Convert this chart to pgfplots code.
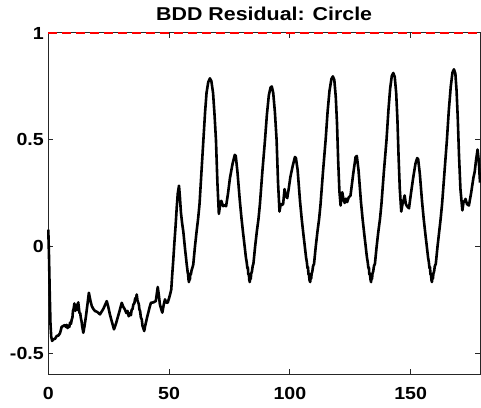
\documentclass[border=0pt]{standalone}
\usepackage{fontspec}
\setmainfont{Liberation Sans}
\usepackage{graphicx}
\usepackage{pgfplots}
\usepackage{pgfplotstable}
\pgfplotsset{compat=1.18}
\definecolor{axgray}{rgb}{0.15,0.15,0.15}
\newcommand{\tl}[1]{\scalebox{1.12}[1]{#1}}
\newcommand{\ttl}[1]{\scalebox{1.15}[1]{#1}}
\pgfplotstableread{
x y
0 0.08
0.3 -0.05
0.6 -0.22
0.9 -0.36
1.2 -0.42
1.6 -0.44
2.1 -0.433
2.8 -0.43
3.5 -0.417
4.2 -0.415
4.8 -0.405
5.2 -0.39
5.5 -0.375
6.2 -0.37
6.9 -0.366
7.3 -0.375
7.6 -0.365
8.0 -0.38
8.3 -0.37
8.7 -0.375
9.0 -0.355
9.4 -0.36
9.7 -0.34
10.0 -0.33
10.2 -0.30
10.5 -0.29
10.8 -0.265
11.0 -0.29
11.2 -0.30
11.4 -0.275
11.6 -0.29
11.8 -0.27
12.0 -0.295
12.2 -0.27
12.4 -0.26
12.7 -0.29
12.9 -0.31
13.2 -0.31
13.5 -0.335
13.8 -0.35
14.0 -0.37
14.5 -0.402
15.0 -0.37
15.5 -0.332
16.2 -0.27
16.8 -0.215
17.4 -0.25
18.0 -0.277
18.6 -0.29
19.3 -0.30
20.3 -0.305
21.4 -0.316
22.8 -0.29
24.2 -0.254
24.8 -0.28
25.5 -0.316
26.3 -0.35
27.2 -0.386
28.0 -0.36
28.7 -0.332
29.5 -0.30
30.4 -0.262
31.0 -0.28
31.7 -0.293
32.3 -0.31
32.8 -0.30
33.3 -0.325
33.8 -0.31
34.2 -0.32
34.5 -0.295
34.9 -0.29
35.2 -0.27
35.6 -0.265
36.0 -0.24
36.3 -0.245
36.6 -0.223
36.9 -0.25
37.2 -0.26
37.5 -0.27
37.7 -0.293
38.0 -0.30
38.3 -0.33
38.7 -0.34
39.0 -0.37
39.3 -0.38
39.7 -0.394
40.1 -0.37
40.5 -0.35
41.0 -0.325
41.4 -0.308
42.0 -0.28
42.5 -0.262
43.5 -0.26
44.5 -0.254
45.3 -0.188
45.8 -0.23
46.2 -0.27
46.7 -0.29
47.2 -0.308
47.8 -0.27
48.3 -0.246
48.8 -0.26
49.4 -0.262
50.0 -0.24
50.4 -0.223
50.9 -0.2
51.3 -0.13
51.7 -0.067
52.2 0.02
52.7 0.1
53.2 0.19
53.6 0.25
54.1 0.286
54.5 0.23
54.9 0.16
55.4 0.11
55.9 0.07
56.6 -0.01
57.0 -0.05
57.3 -0.083
57.5 -0.10
57.7 -0.12
57.9 -0.13
58.0 -0.15
58.2 -0.165
58.4 -0.145
58.6 -0.155
58.8 -0.125
59.0 -0.13
59.3 -0.11
59.6 -0.1
60.0 -0.083
60.7 0.0
61.4 0.073
62.0 0.13
62.6 0.2
63.4 0.35
64.2 0.5
64.9 0.63
65.5 0.72
66.2 0.77
66.9 0.788
67.5 0.775
68.2 0.72
68.8 0.62
69.4 0.5
70.0 0.3
70.6 0.154
71.2 0.2
71.6 0.215
71.9 0.205
72.4 0.19
72.9 0.195
73.6 0.19
74.4 0.25
75.2 0.322
76.3 0.39
77.2 0.43
77.6 0.425
78.3 0.35
79.3 0.213
80.0 0.13
80.7 0.058
81.3 0.0
81.8 -0.05
82.1 -0.07
82.4 -0.1
82.6 -0.095
82.8 -0.13
83.0 -0.125
83.2 -0.155
83.4 -0.165
83.6 -0.14
83.8 -0.15
84.0 -0.125
84.3 -0.115
84.6 -0.09
84.9 -0.08
85.6 0.0
86.3 0.07
87.0 0.13
87.6 0.2
88.6 0.35
89.7 0.5
90.5 0.62
91.3 0.71
92.0 0.745
92.5 0.75
93.1 0.72
93.8 0.63
94.5 0.5
95.1 0.3
95.7 0.165
96.2 0.2
96.7 0.195
97.2 0.2
97.8 0.27
98.3 0.24
98.9 0.228
99.5 0.27
100.2 0.326
101.2 0.38
102.1 0.42
102.5 0.415
103.2 0.36
104.2 0.213
104.9 0.13
105.6 0.058
106.2 0.0
106.7 -0.05
107.0 -0.07
107.3 -0.1
107.5 -0.095
107.7 -0.13
107.9 -0.125
108.1 -0.155
108.4 -0.165
108.6 -0.14
108.8 -0.15
109.0 -0.125
109.3 -0.115
109.6 -0.09
110.0 -0.08
110.7 0.0
111.4 0.07
112.1 0.13
112.7 0.2
113.7 0.35
114.8 0.5
115.6 0.63
116.4 0.73
117.2 0.785
117.8 0.797
118.4 0.78
119.0 0.7
119.5 0.58
120.0 0.4
120.5 0.26
121.0 0.193
121.4 0.24
121.7 0.255
122.2 0.22
122.7 0.205
123.2 0.225
123.7 0.209
124.3 0.23
125.1 0.24
126.2 0.34
127.2 0.42
127.7 0.425
128.4 0.36
129.4 0.213
130.1 0.13
130.8 0.058
131.4 0.0
131.9 -0.05
132.2 -0.07
132.5 -0.1
132.7 -0.095
132.9 -0.13
133.1 -0.125
133.4 -0.155
133.6 -0.165
133.8 -0.14
134.0 -0.15
134.2 -0.125
134.5 -0.115
134.8 -0.09
135.2 -0.08
135.9 0.0
136.6 0.07
137.3 0.13
137.9 0.2
138.9 0.35
140.0 0.5
140.8 0.64
141.5 0.74
142.2 0.8
142.8 0.813
143.4 0.795
144.0 0.72
144.5 0.6
145.0 0.42
145.5 0.27
146.1 0.165
146.6 0.2
147.1 0.22
147.5 0.24
148.0 0.2
148.5 0.19
149.3 0.18
150.0 0.24
151.0 0.32
152.0 0.39
152.7 0.415
153.1 0.41
153.8 0.34
154.7 0.213
155.4 0.13
156.1 0.058
156.7 0.0
157.2 -0.05
157.5 -0.07
157.8 -0.1
158.0 -0.095
158.2 -0.13
158.4 -0.125
158.6 -0.155
158.8 -0.165
159.0 -0.14
159.2 -0.15
159.4 -0.125
159.7 -0.115
160.0 -0.09
160.4 -0.08
161.1 0.0
161.8 0.07
162.4 0.13
163.0 0.2
164.0 0.35
165.0 0.5
165.8 0.64
166.6 0.75
167.3 0.815
167.9 0.83
168.5 0.81
169.0 0.73
169.5 0.6
170.0 0.43
170.6 0.27
171.4 0.17
171.9 0.21
172.4 0.215
172.7 0.224
173.3 0.2
174.1 0.193
175.0 0.25
176.0 0.325
176.5 0.35
177.0 0.40
177.7 0.455
178.2 0.40
178.7 0.3
}\resid
\begin{document}
\begin{tikzpicture}
\begin{axis}[
  at={(0pt,0pt)}, anchor=south west,
  scale only axis, width=431.7pt, height=341pt,
  xmin=0, xmax=178.7, ymin=-0.595, ymax=1,
  clip=false,
  axis line style={line width=1pt, draw=axgray},
  tick style={line width=1pt, draw=axgray},
  major tick length=5pt, tick align=inside,
  xtick={0,50,100,150},
  xticklabels={\tl{0},\tl{50},\tl{100},\tl{150}},
  ytick={-0.5,0,0.5,1},
  yticklabels={\tl{-0.5},\tl{0},\tl{0.5},\tl{1}},
  tick label style={font=\fontsize{17.5}{20}\selectfont\bfseries, text=black},
  xticklabel style={yshift=-10pt},
  yticklabel style={xshift=-1pt},
  title={\ttl{BDD Residual: Circle}},
  title style={font=\fontsize{18.6}{21}\selectfont\bfseries, yshift=3pt},
]
\addplot[black, line width=2.6pt, line join=round] table[x=x, y=y] {\resid};
\addplot[red, line width=1.2pt, dash pattern=on 9pt off 5pt] coordinates {(0,1) (178.7,1)};
\end{axis}
\pgfresetboundingbox
\path[use as bounding box] (-48.3pt,-33pt) rectangle (432.7pt,374pt);
\end{tikzpicture}
\end{document}
